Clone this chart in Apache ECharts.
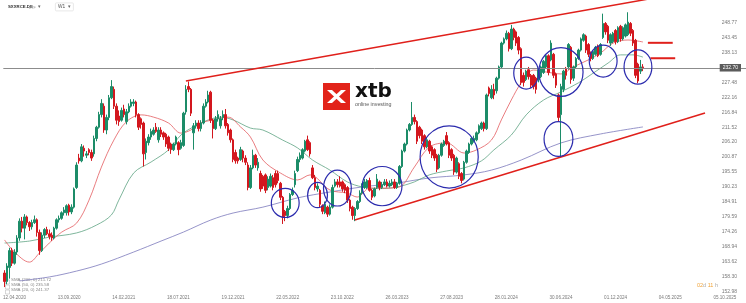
<!DOCTYPE html>
<html><head><meta charset="utf-8">
<script src="https://cdn.jsdelivr.net/npm/echarts@6/dist/echarts.min.js"></script>
<style>html,body{margin:0;padding:0;background:#fff}#c{width:746px;height:303px}</style>
</head><body><div id="c"></div>
<script>
// weekly categories start (first candle week) and total slots on the time axis
const firstWeek = [2020, 2, 15];
const weekSlots = 299;
const xTickLabels = ['12.04.2020','13.09.2020','14.02.2021','18.07.2021','19.12.2021','22.05.2022','23.10.2022','26.03.2023','27.08.2023','28.01.2024','30.06.2024','01.12.2024','04.05.2025','05.10.2025'];
const yTickLabels = [152.98,158.30,163.62,168.94,174.26,179.59,184.91,190.23,195.55,200.87,206.20,211.52,216.84,222.16,227.48,232.81,238.13,243.45,248.77];
const yRange = [152.38, 256.87];
const lastPrice = 232.70;
// weekly candles [open, close, low, high]
const candles = [
[159.5,156.5,154.5,160.5],[156.5,162,155.5,163],[161.5,167.5,157.5,168.5],[167.5,163,162,168.5],[163,167,162.5,168],
[167,172,166,173],[172,178,171,179],[178,175.5,174,179.5],[175.5,179.5,171.5,180.5],[179.5,177.5,176.5,180],
[177.5,176,174.5,178],[176,177.5,175,178.5],[177.5,178.5,177,180],[178.5,174,172.5,179],[174,167.5,166,175],
[167.5,173,167,174],[173,175,172,175.5],[175,173.5,173,176],[173.5,172.5,171.5,175],[173,172,171,174],
[172,175.5,171.5,176],[175.5,178.5,175,179],[178.5,179,177.5,180],[179,181,178.5,181.5],[181,182,180,183],
[181,183.5,180,184],[183.7,181.3,180,184.2],[181.3,183,180.5,184],[183,189.5,182.5,190],[190,198,189.5,199],
[200.5,199.5,198.5,202],[199.5,204.5,199,205.5],[204,203,201,205],[201.5,202,200.5,203],[203.5,202.5,201.5,204],
[202.5,200.5,199.5,203.5],[202,207.5,201,208.5],[207.5,211.5,206.5,212],[211.5,216,211,217],[216,220,215,221.5],
[219,210.5,209.5,220],[210.5,215,209,216],[215,222,214,223],[222,226,221.5,228.3],[225,219,218,226],
[219,214,212.5,220],[215.5,213.5,212,217.5],[214,217.5,213.5,218.5],[218,216,215,219.5],[213.5,217,212.5,218],
[217,219,216.5,220],[219,220.5,218.5,221.5],[220,220.5,219,221.5],[220.5,216,215,221],[216,211.5,210.5,216.5],
[214.5,212.5,211,215],[213,202,197.5,213.5],[202.5,206.5,200,207.5],[206,208,205,209],[208,210,207,211],
[209,210.5,208.5,211.5],[211.5,210,209.5,213],[207,210.5,206,211.5],[210.5,209,208,211.5],[209.5,208,207,210],
[209,205.5,204.5,209.5],[208,204,203,208.5],[205.5,203.5,202,206],[203.5,205.5,203,206],[205.5,208,205,208.5],
[206,203.5,201.5,206.5],[204,206,203.5,207],[205,216.5,204.5,217],[217,225,216,226.5],[226,225,224,227.8],
[225,216.5,215.5,225.5],[209.5,212,203.5,213],[212,213,211,214],[213,211,210,214],[211,213,210,214],
[213,219,212.5,220],[219,220.5,218.5,221.5],[220.5,223,220,224.5],[224,214,213,224.5],[214,211,207.5,214.5],
[211,214.5,210.5,215.5],[214.5,216,213.5,217.5],[212,214.5,211,215.5],[215,216,214,217.5],[216,212,211,218],
[212.5,209.5,208.5,213],[210.5,207,206,211],[207,200,199,207.5],[202.5,199.5,198.5,203.5],[200.5,199.5,198.5,201],
[200,203.5,199.5,204.5],[203,200.5,199,203.5],[200.5,199,198,201.5],[198,190,189,199],[190,197,189.5,198],
[197,201.5,196.5,203.5],[201.5,198,197,202],[197,199,196,200.5],[195,189.5,188.5,196],[194,190.5,189.5,194.5],
[194.5,189,188,195],[190,193,189,194],[190.5,194,190,195],[193.5,190,189,194.5],[195,191,190,196],
[195,192.5,191.5,196],[191.5,186.5,185.5,192],[186.5,179.5,177,187],[181.5,180,178,182],[180,182.5,179,183.5],
[182.5,187.5,182,188],[187.5,189,187,190],[191,195,190,196],[196,200,195.5,201],[200,201.5,199,202.5],
[200.5,203.5,200,204],[203,206.5,202.5,207],[207,203.5,203,208.5],[206,202,201,206.5],[197,193.5,193,198],
[193.5,190,189,194.5],[189.5,190.5,188.5,191.5],[189,184,183,189.5],[183.5,181.5,180.5,184],[181,184,180.5,185],
[183,180.5,179.5,183.5],[180.5,183,180,184],[183,190,182.5,191],[190.5,192,190,193],[192,191,190,193],
[192,190.5,190,194],[192,189.5,188.5,192.5],[191,189,188,191.5],[190,185.5,184.5,190.5],[185.5,182.5,181.5,186],
[183,180,178.5,183.5],[180,182.5,178,183],[182.5,185,182,185.5],[185,188,184.5,189],[188,190.5,187.5,191.5],
[190,192,189.5,193],[190,192.5,189.5,193],[192.5,189,188.5,193.5],[189,186.5,185.5,189.5],[187,189.5,186.5,190],
[190,193,189.5,194.8],[192,190,189,192.5],[190,191,189.5,192],[191,192,190.5,193],[192,190.5,190,193],
[190.5,191.5,190,192.5],[191,192,190.5,193],[192,190,189.5,193],[190,191.5,189.5,192],[191.5,197.5,191,198],
[197.5,203,197,203.5],[203,205.5,202.5,206],[205.5,210.5,205,211],[210.5,212.5,210,213],[212.5,215,212,220.5],
[215,213.5,212.5,216],[213.5,206.5,205.5,214],[211.5,208.5,207.5,212],[210.5,206.5,205.5,211],[208.5,204.5,203.5,209],
[204.5,207,204,208],[206.5,203,202,207],[204.5,201.5,200.5,205],[203.5,200.5,199.5,204],[201.5,196.5,195.5,202],
[197,201.5,196.5,202],[201.5,205.5,201,206],[205,206.5,204.5,207],[208.5,205.5,205,209.8],[206,201.5,200.5,206.5],
[203.5,200.5,199.5,204],[201.5,195.5,194.5,202],[195.5,200.5,195,201],[198.5,194,193,199],[195,192.5,191.5,195.5],
[193,199,192.5,199.5],[199,203,198.5,203.5],[202.5,205.5,202,206],[205.5,207.5,205,208],[206.5,207.5,206,208.5],
[207,209.5,206.5,210],[209.5,212,209,212.5],[211,213,210.5,213.5],[213,211,210,213.5],[211,223,210.5,223.5],
[225.5,223.5,222.5,226],[222,225,221.5,226.5],[225,223,221.5,227],[224.5,229,223.5,229.5],[229,233,228.5,233.5],
[233,241.5,232.5,242],[241.5,243,241,243.5],[243,245,242.5,246],[245,239.5,238.5,245.5],[239.5,246.5,239,248],
[246.5,243.5,242.5,247],[245.5,241.5,240.5,246],[243.5,239,237.5,244],[239.5,227.5,226.5,240],[230,227.5,226,231],
[228.5,231.5,228,232],[232,229.5,228.5,233],[230,226.5,225.5,230.5],[230,226,225,230.5],[229,225,223.5,229.5],
[228.5,232,227.5,232.5],[229.5,233,229,233.5],[231,235,230.5,235.5],[233,237,232.5,237.5],[237,231,230,237.5],
[235.5,241.5,235,242.5],[237.5,230,229,238],[230.5,226.5,225.5,231],[223,215,213.5,223.5],[216,226,200.8,227],
[225,231.5,224,232],[232.5,230,228.5,233],[233,241,232,241.5],[240,228.5,227,240.5],[229,233,228,233.5],
[233,236,232.5,236.5],[236,239,235.5,239.5],[239,243,238.5,243.5],[242.5,244.5,242,245],[244,239,238,244.5],
[241,237.5,236.5,241.5],[238,236,235,238.5],[236,238.5,235.5,239],[237.5,240,237,240.5],[240.5,237,236.5,241],
[237.5,241,237,241.5],[243.5,248.5,243,252],[248.5,245.5,244.5,249],[247.5,242.5,241.5,248],[241.5,244.5,240.5,245],
[242,245,241.5,245.5],[246,242,241,246.5],[242,247,241.5,247.5],[247.5,243,242,248],[243,247,242.5,247.5],
[244,248,243.5,248.5],[244.5,249,244,252.5],[248.5,245,244,249],[246,241.5,240.5,246.5],[242.5,230,229,243],
[234,228,227.2,234.5],[231.5,233,230.5,235.5],[233,232.7,231.5,234]
];
// moving averages: [week index, value]
const sma20 = [[0,171.3],[4.3,167.0],[9.6,163.4],[14.4,166.6],[18.4,170.2],[23.2,174.1],[28.5,177.3],[33.7,185.5],[38.5,197.3],[43.8,206.9],[49.4,213.4],[54.6,215.9],[59.9,215.1],[65.5,213.0],[70.7,209.4],[74.7,210.5],[78.8,213.0],[84.0,214.1],[89.6,215.1],[94.9,211.6],[98.9,208.0],[104.1,199.8],[111.0,195.2],[117.8,192.7],[123.0,194.5],[131.1,189.1],[137.9,188.0],[142.0,186.6],[147.2,189.8],[154.0,189.8],[159.3,190.2],[164.5,197.3],[171.3,204.4],[178.2,205.9],[184.6,202.3],[190.2,203.4],[195.5,206.9],[199.5,214.1],[203.5,221.2],[207.5,227.3],[212.8,231.9],[217.6,231.2],[223.6,230.5],[228.9,233.0],[234.5,235.5],[239.7,238.0],[245.0,241.5],[250.6,242.6],[257,241.9]];
const sma50 = [[0,170.2],[10.4,170.9],[18.4,172.3],[29.3,173.8],[37.3,176.6],[42.6,180.2],[45.8,185.5],[51.8,195.2],[58.6,199.1],[65.5,203.4],[70.7,208.7],[75.9,211.6],[81.6,214.1],[86.8,215.1],[92.1,214.1],[98.9,211.2],[104.1,210.5],[112.2,206.9],[117.8,204.1],[124.2,199.8],[131.1,196.2],[137.9,192.0],[144.4,190.2],[151.2,189.6],[158.1,190.2],[164.5,192.0],[171.3,194.5],[178.2,195.9],[184.6,197.0],[191.5,199.5],[196.7,203.4],[203.5,208.7],[210.4,215.9],[216.8,221.2],[223.6,224.1],[230.5,227.3],[236.9,230.8],[242.6,234.4],[247.8,237.3],[253.0,237.3],[257,236.5]];
const sma200 = [[6.3,156.7],[18.4,158.1],[29.3,160.2],[38.5,162.7],[51.8,167.0],[62.7,170.9],[71.9,174.1],[82.8,178.4],[92.1,180.9],[104.1,183.0],[117.8,186.3],[131.1,188.4],[144.4,190.2],[158.1,191.6],[171.3,193.4],[184.6,194.5],[195.5,196.2],[207.5,199.8],[223.6,205.9],[239.7,209.1],[257,211.6]];
const legendLines = ['SMA (200, 0) 211.72','SMA (50, 0) 235.58','SMA (20, 0) 241.37'];
// drawn annotations, in data units
const upperChannel = [[72.7,228.0],[298,263.3]];
const lowerChannel = [[141.2,178.4],[282.4,216.6]];
const level1 = [[259,241.6],[269,241.6]];
const level2 = [[259.5,236.1],[269.5,236.1]];
// ellipses: [center week, center price, radius in weeks, radius in price]
const circles = [[113.4,184.5,5.6,5.2],[125.9,187.3,4.0,4.5],[133.9,189.8,5.6,6.4],[152.4,190.5,8.0,7.0],[178.6,200.9,11.7,11.1],[210.4,230.8,5.0,5.7],[224.1,231.2,8.9,8.7],[240.5,235.1,5.6,5.7],[254.6,233.0,5.6,6.1],[223.2,207.3,5.8,6.2]];

const pad = n => (n < 10 ? '0' : '') + n;
const categories = [];
for (let i = 0; i < weekSlots; i++) {
  const d = new Date(Date.UTC(firstWeek[0], firstWeek[1], firstWeek[2] + 7 * i));
  categories.push(pad(d.getUTCDate()) + '.' + pad(d.getUTCMonth() + 1) + '.' + d.getUTCFullYear());
}
const FONT = 'Liberation Sans';
const UP = '#1c8c68', DOWN = '#d3171e', CH = '#e0201b', CIRC = '#2c2cae';

const chart = echarts.init(document.getElementById('c'), null, {renderer: 'canvas'});
const lineS = (data, color, width, z) => ({type: 'line', data, smooth: 0.35, showSymbol: false, symbol: 'none', silent: true, z: z || 3, lineStyle: {color, width}});
chart.setOption({
  animation: false,
  backgroundColor: '#fff',
  textStyle: {fontFamily: FONT},
  grid: {left: 3, right: 0, top: 0, bottom: 10},
  xAxis: {
    type: 'category', data: categories, boundaryGap: true,
    axisLine: {show: false}, axisTick: {show: false}, splitLine: {show: false},
    axisLabel: {interval: (i, v) => xTickLabels.indexOf(v) >= 0, fontSize: 4.6, color: '#7a7a7a', margin: 2, fontFamily: FONT}
  },
  yAxis: {
    type: 'value', position: 'right', min: yRange[0], max: yRange[1],
    axisLine: {show: false}, axisTick: {show: false}, splitLine: {show: false},
    axisLabel: {inside: true, margin: 9, fontSize: 5, color: '#7a7a7a', fontFamily: FONT, customValues: yTickLabels, formatter: v => Number(v).toFixed(2)}
  },
  series: [
    lineS(sma200, '#7b78bb', 0.8),
    lineS(sma50, '#5ea383', 0.8),
    lineS(sma20, '#e35c5f', 0.8),
    {
      type: 'candlestick', data: candles, barWidth: 2, z: 4,
      itemStyle: {color: UP, color0: DOWN, borderColor: UP, borderColor0: DOWN, borderWidth: 1},
      markLine: {
        symbol: ['none', 'none'], silent: true, animation: false,
        lineStyle: {color: '#8c8c8c', width: 1, type: 'solid'},
        label: {show: true, position: 'insideEndTop', distance: [5, 0], verticalAlign: 'middle', align: 'right',
          formatter: lastPrice.toFixed(2), backgroundColor: '#5b5b5b', color: '#fff', fontSize: 5, padding: [1.5, 3, 1, 3], fontFamily: FONT},
        data: [{yAxis: lastPrice}]
      }
    },
    {type: 'line', data: upperChannel, showSymbol: false, symbol: 'none', silent: true, z: 5, lineStyle: {color: CH, width: 1.5}},
    {type: 'line', data: lowerChannel, showSymbol: false, symbol: 'none', silent: true, z: 5, lineStyle: {color: CH, width: 1.5}},
    {type: 'line', data: level1, showSymbol: false, symbol: 'none', silent: true, z: 5, lineStyle: {color: CH, width: 2}},
    {type: 'line', data: level2, showSymbol: false, symbol: 'none', silent: true, z: 5, lineStyle: {color: CH, width: 2}},
    {
      type: 'custom', data: circles, z: 6, silent: true,
      encode: {x: 0, y: 1},
      renderItem: (params, api) => {
        const c = api.coord([api.value(0), api.value(1)]);
        const band = api.size([1, 0])[0];
        const ry = api.size([0, api.value(3)])[1];
        return {type: 'ellipse', shape: {cx: c[0], cy: c[1], rx: api.value(2) * band, ry: ry},
          style: {fill: 'none', stroke: CIRC, lineWidth: 1.2}};
      }
    }
  ],
  graphic: [
    {type: 'text', left: 8, top: 4.5, style: {text: 'SXXRCE.DE', fontSize: 4.3, fontWeight: 'bold', fill: '#333', fontFamily: FONT}},
    {type: 'text', left: 29, top: 5.5, style: {text: 'ETF', fontSize: 3.6, fill: '#999', fontFamily: FONT}},
    {type: 'text', left: 38, top: 4, style: {text: '▾', fontSize: 5, fill: '#666', fontFamily: FONT}},
    {type: 'rect', left: 55, top: 2.5, shape: {width: 18, height: 8, r: 1}, style: {fill: '#fff', stroke: '#e2e2e2', lineWidth: 0.8}},
    {type: 'text', left: 58, top: 4.5, style: {text: 'W1', fontSize: 4.8, fill: '#555', fontFamily: FONT}},
    {type: 'text', left: 68, top: 4, style: {text: '▾', fontSize: 5, fill: '#666', fontFamily: FONT}},
    // logo
    {type: 'rect', left: 323, top: 83, shape: {width: 27, height: 27}, style: {fill: '#e2231a'}, z: 20},
    {type: 'polygon', shape: {points: [[327, 90], [332, 90], [346, 103], [341, 103]]}, style: {fill: '#fff'}, z: 21},
    {type: 'polygon', shape: {points: [[341, 90], [346, 90], [332, 103], [327, 103]]}, style: {fill: '#fff'}, z: 21},
    {type: 'text', left: 355, top: 82, style: {text: 'xtb', fontSize: 20, fontWeight: 'bold', fill: '#111', fontFamily: 'DejaVu Sans'}, z: 20},
    {type: 'text', left: 355, top: 102.5, style: {text: 'online investing', fontSize: 5.3, fill: '#555', fontFamily: FONT}, z: 20},
    // legend
    {type: 'rect', left: 3, top: 277.5, shape: {width: 4, height: 4}, style: {fill: 'none', stroke: '#bbb', lineWidth: 0.6}},
    {type: 'rect', left: 3, top: 282.5, shape: {width: 4, height: 4}, style: {fill: 'none', stroke: '#bbb', lineWidth: 0.6}},
    {type: 'rect', left: 3, top: 287.5, shape: {width: 4, height: 4}, style: {fill: 'none', stroke: '#bbb', lineWidth: 0.6}},
    {type: 'text', left: 11, top: 277.3, style: {text: legendLines[0], fontSize: 4.4, fill: '#888', fontFamily: FONT}},
    {type: 'text', left: 11, top: 282.3, style: {text: legendLines[1], fontSize: 4.4, fill: '#888', fontFamily: FONT}},
    {type: 'text', left: 11, top: 287.3, style: {text: legendLines[2], fontSize: 4.4, fill: '#888', fontFamily: FONT}},
    // countdown
    {type: 'text', left: 697, top: 282.5, style: {text: '{o|02}{g|d }{o|11}{g| h}', fontFamily: FONT, rich: {o: {fill: '#f0a43a', fontSize: 5.5, fontFamily: FONT}, g: {fill: '#aaa', fontSize: 5.5, fontFamily: FONT}}}}
  ]
});
</script>
</body></html>
